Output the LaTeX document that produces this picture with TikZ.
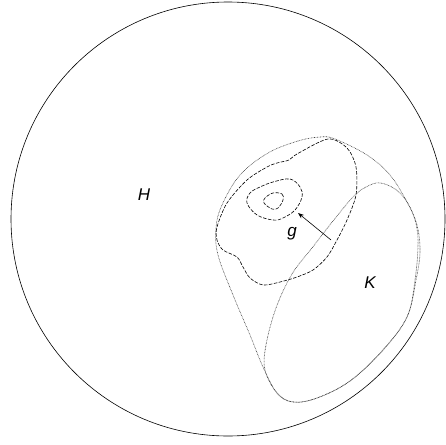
\documentclass[tikz,border=0pt]{standalone}
\usepackage{fontspec}
\setmainfont{Liberation Sans}
\usetikzlibrary{arrows.meta}

\begin{document}
\begin{tikzpicture}[x=1pt,y=-1pt,
  setline/.style={line width=0.6pt},
  orbitline/.style={line width=0.6pt, dash pattern=on 3.5pt off 1.5pt},
  dotline/.style={line width=0.6pt, black!75, dash pattern=on 0.7pt off 0.8pt},
  setlabel/.style={font=\fontsize{17}{20}\selectfont\itshape}]

\useasboundingbox (0,0) rectangle (446,444);

\draw[setline] (228,219) circle[radius=217];

% the two dotted regions
\draw[dotline] plot[smooth cycle, tension=0.6] coordinates {
  (381,183) (366,187) (353,197) (333,221) (312,248) (292,274) (276,308)
  (266,345) (265,370) (277,393) (293,402) (317,398) (350,381) (383,350)
  (407,317) (415,280) (418,240) (413,214) (400,193)};

\draw[dotline] plot[smooth cycle, tension=0.6] coordinates {
  (320,137) (298,141) (268,153) (240,175) (222,205) (216,228) (218,255)
  (233,295) (250,335) (263,367) (277,393) (293,402) (317,398) (350,381)
  (383,350) (407,317) (416,280) (420,252) (417,225) (407,202) (390,175)
  (367,155) (335,139)};

% nested dashed curves
\draw[orbitline] plot[smooth cycle, tension=0.5] coordinates {
  (328,139) (297,154) (289,160) (277,163) (267,167) (247,180) (227,203)
  (217,227) (217,240) (223,250) (237,257) (243,267) (250,278) (263,285)
  (280,282) (297,277) (313,270) (327,257) (337,240) (347,220) (356,195)
  (356,167) (347,148)};

\draw[orbitline] plot[smooth cycle, tension=0.6] coordinates {
  (273,182) (290,179) (300,187) (302,197) (295,210) (283,218) (273,220)
  (257,215) (247,203) (250,193) (260,187)};

\draw[orbitline] plot[smooth cycle, tension=0.6] coordinates {
  (273,193) (282,194) (283,200) (278,208) (272,209) (264,203) (265,198)};

\coordinate (gtail) at (331,240);
\coordinate (ghead) at (298,213);
\draw[line width=0.6pt, -{Stealth[length=6pt,width=4.5pt]}] (gtail) -- (ghead);

\node[setlabel] (labelH) at (144,195) {H};
\node[setlabel] (labelg) at (292,234) {g};
\node[setlabel] (labelK) at (370,283) {K};

\end{tikzpicture}
\end{document}
